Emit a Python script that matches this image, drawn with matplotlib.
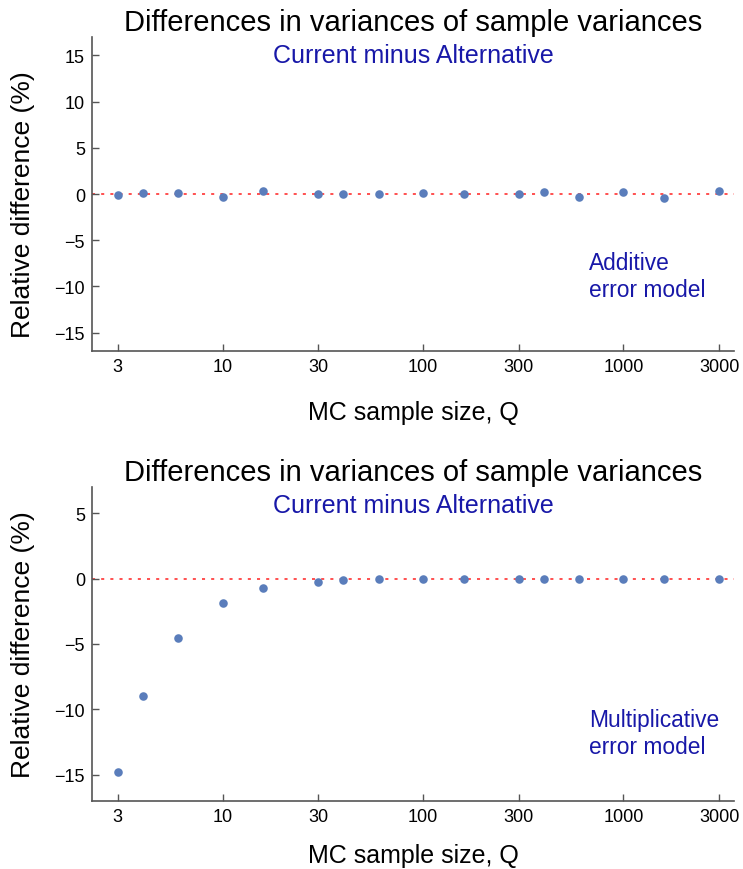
import matplotlib
matplotlib.use("Agg")
import matplotlib.pyplot as plt
import numpy as np

plt.rcParams['font.family'] = ['Liberation Sans', 'DejaVu Sans']

# MC sample sizes
Q = [3, 4, 6, 10, 16, 30, 40, 60, 100, 160, 300, 400, 600, 1000, 1600, 3000]

# relative difference (%) current minus alternative
additive = [-0.15, 0.15, 0.07, -0.33, 0.29, 0.0, 0.0, 0.0, 0.1, -0.04,
            -0.04, 0.26, -0.36, 0.18, -0.4, 0.36]
multiplicative = [-14.8, -9.0, -4.55, -1.85, -0.69, -0.23, -0.1, -0.05, -0.02,
                  -0.02, -0.02, -0.02, -0.02, -0.02, -0.02, -0.02]

xticks = [3, 10, 30, 100, 300, 1000, 3000]
models = ["Additive\nerror model", "Multiplicative\nerror model"]

pt_color = '#5a7dbb'
txt_blue = '#1818a8'
spine_col = '#555555'

fig = plt.figure(figsize=(7.43, 8.70), dpi=100)
ax1 = fig.add_axes([0.1238, 0.5954, 0.864, 0.3609])
ax2 = fig.add_axes([0.1238, 0.0782, 0.864, 0.3609])

# axes, values, ylim, yticks, model text y, ylabel y, xlabel pad
panels = [(ax1, additive, (-17, 17), [-15, -10, -5, 0, 5, 10, 15], 0.239, 0.468, 18),
          (ax2, multiplicative, (-17, 7), [-15, -10, -5, 0, 5], 0.217, 0.5, 13)]

for i, (ax, vals, ylim, yt, ty, ly, xpad) in enumerate(panels):
    ax.axhline(0, color='#ff2020', ls=(0, (2, 4)), lw=1.1, zorder=1)
    ax.scatter(Q, vals, s=38, color=pt_color, zorder=3, linewidths=0)
    ax.set_xscale('log')
    ax.set_xlim(2.23, 3560)
    ax.set_ylim(*ylim)
    ax.set_xticks(xticks)
    ax.set_xticklabels([str(t) for t in xticks])
    ax.xaxis.set_minor_locator(matplotlib.ticker.NullLocator())
    ax.set_yticks(yt)
    ax.set_yticklabels([str(t).replace('-', '\u2212') for t in yt])
    ax.tick_params(direction='in', length=5, width=1, labelsize=13,
                   color=spine_col, pad=5)
    for s in ['top', 'right']:
        ax.spines[s].set_visible(False)
    for s in ['left', 'bottom']:
        ax.spines[s].set_color(spine_col)
        ax.spines[s].set_linewidth(1.2)
    ax.set_title("Differences in variances of sample variances", fontsize=21, pad=5)
    ax.set_xlabel("MC sample size, Q", fontsize=18, labelpad=xpad)
    ax.set_ylabel("Relative difference (%)", fontsize=19)
    ax.yaxis.set_label_coords(-0.088, ly)
    ax.text(0.5, 0.943, "Current minus Alternative", transform=ax.transAxes,
            ha='center', va='center', color=txt_blue, fontsize=18)
    ax.text(0.774, ty, models[i], transform=ax.transAxes, ha='left',
            va='center', color=txt_blue, fontsize=16.4, linespacing=1.25)

fig.savefig("out.png", dpi=100)
